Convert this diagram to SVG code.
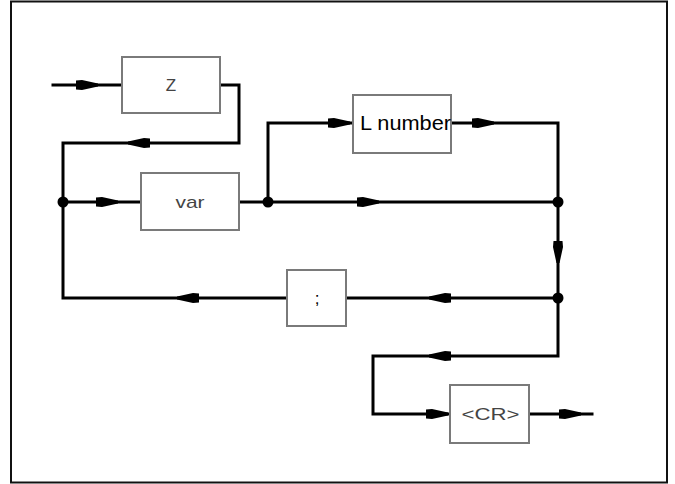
<svg xmlns="http://www.w3.org/2000/svg" xmlns:xlink="http://www.w3.org/1999/xlink" width="675" height="484" viewBox="0 0 675 484">
<style>
.box{fill:#fff;stroke:#7a7a7a;stroke-width:2}
.ln{fill:none;stroke:#000;stroke-width:3;stroke-linejoin:miter;stroke-linecap:square}
.lbl{font-family:"Liberation Sans",Arial,sans-serif;font-size:17px;fill:#444;text-anchor:middle}
.big{font-family:"Liberation Sans",Arial,sans-serif;font-size:20px;fill:#000}
.dot{fill:#000}
</style>
<defs>
<path id="arr" d="M0,-4.5 L6,-5 L22,-1.5 L22,1.5 L6,5 L0,4.5 Z" fill="#000"/>
</defs>
<rect x="11" y="1.5" width="656" height="481" fill="#fff" stroke="#111" stroke-width="2"/>
<g id="connectors">
<path class="ln" d="M53,85 H122"/>
<path class="ln" d="M220,85 H239 V143 H63 V298 H286"/>
<path class="ln" d="M63,202 H141"/>
<path class="ln" d="M239,202 H558"/>
<path class="ln" d="M268,202 V123 H353"/>
<path class="ln" d="M451,123 H558 V298"/>
<path class="ln" d="M346,298 H558 V356 H373 V414 H450"/>
<path class="ln" d="M529,414 H592"/>
<circle class="dot" cx="63" cy="202" r="5.5"/>
<circle class="dot" cx="268" cy="202" r="5.5"/>
<circle class="dot" cx="558" cy="202" r="5.5"/>
<circle class="dot" cx="558" cy="298" r="5.5"/>
<use xlink:href="#arr" transform="translate(76,85)"/>
<use xlink:href="#arr" transform="translate(150,143) rotate(180)"/>
<use xlink:href="#arr" transform="translate(96,202)"/>
<use xlink:href="#arr" transform="translate(328,123)"/>
<use xlink:href="#arr" transform="translate(472,123)"/>
<use xlink:href="#arr" transform="translate(357,202)"/>
<use xlink:href="#arr" transform="translate(558,241) rotate(90)"/>
<use xlink:href="#arr" transform="translate(451,298) rotate(180)"/>
<use xlink:href="#arr" transform="translate(199,298) rotate(180)"/>
<use xlink:href="#arr" transform="translate(451,356) rotate(180)"/>
<use xlink:href="#arr" transform="translate(426,414)"/>
<use xlink:href="#arr" transform="translate(559,414)"/>
</g>
<g id="node-z">
<rect class="box" x="122" y="57" width="98" height="56"/>
<text class="lbl" x="171" y="91">Z</text>
</g>
<g id="node-var">
<rect class="box" x="141" y="173" width="98" height="57"/>
<text class="lbl" x="190" y="208" textLength="29" lengthAdjust="spacingAndGlyphs">var</text>
</g>
<g id="node-lnumber">
<rect class="box" x="353" y="95" width="98" height="58"/>
<text class="big" x="360" y="130" textLength="91" lengthAdjust="spacingAndGlyphs">L number</text>
</g>
<g id="node-semicolon">
<rect class="box" x="287" y="270" width="59" height="56"/>
<text class="lbl" x="317" y="304" style="fill:#000">;</text>
</g>
<g id="node-cr">
<rect class="box" x="450" y="385" width="79" height="58"/>
<text class="lbl" x="490.5" y="420" textLength="58" lengthAdjust="spacingAndGlyphs">&lt;CR&gt;</text>
</g>
</svg>
